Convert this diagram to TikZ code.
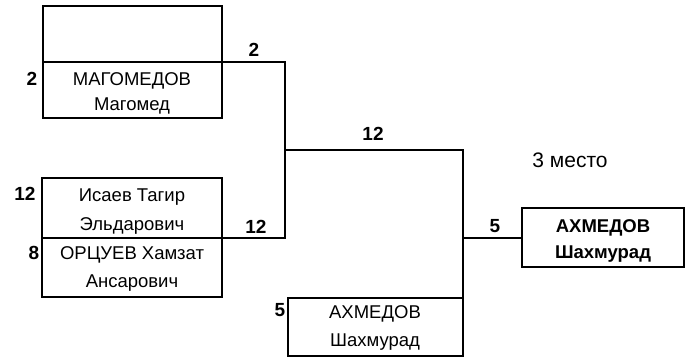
\documentclass[tikz,border=0pt]{standalone}
\usepackage{fontspec}
\setmainfont{Liberation Sans}
\begin{document}
\begin{tikzpicture}[x=1pt,y=-1pt,
  box/.style={draw,line width=2.8pt},
  wire/.style={draw,line width=1.6pt},
  nm/.style={font=\fontsize{18.5}{18.5}\selectfont,inner sep=0pt,anchor=base},
  bnm/.style={font=\fontsize{18.5}{18.5}\selectfont\bfseries,inner sep=0pt,anchor=base},
  num/.style={font=\fontsize{19}{19}\selectfont\bfseries,inner sep=0pt,anchor=base},
  big/.style={font=\fontsize{21}{21}\selectfont,inner sep=0pt,anchor=base}]
\useasboundingbox (0,0) rectangle (686,358);
% boxes
\draw[box] (43,6) rectangle (222,118);
\draw[box] (42,178) rectangle (222,297);
\draw[box] (288,298) rectangle (463,356);
\draw[box] (522,208) rectangle (684,267);
% coordinates
\coordinate (a1) at (43,62);
\coordinate (j1) at (285,62);
\coordinate (a2) at (42,238);
\coordinate (j2) at (285,238);
\coordinate (m) at (285,150);
\coordinate (m2) at (463,150);
\coordinate (b3) at (463,298);
\coordinate (k) at (463,238);
\coordinate (b4) at (522,238);
\draw[wire] (a1) -- (j1) -- (j2) -- (a2);
\draw[wire] (m) -- (m2) -- (b3);
\draw[wire] (k) -- (b4);
% texts
\node[nm] (t1) at (132,86) {МАГОМЕДОВ};
\node[nm] (t2) at (132,111) {Магомед};
\node[nm] (t3) at (132,202) {Исаев Тагир};
\node[nm] (t4) at (132,231) {Эльдарович};
\node[nm] (t5) at (132,260) {ОРЦУЕВ Хамзат};
\node[nm] (t6) at (132,288) {Ансарович};
\node[nm] (t7) at (375,319) {АХМЕДОВ};
\node[nm] (t8) at (375,346) {Шахмурад};
\node[bnm] (t9) at (603,233) {АХМЕДОВ};
\node[bnm] (t10) at (603,259) {Шахмурад};
\node[big] (pl) at (570,168) {3 место};
% numbers
\node[num] (n1) at (254,57) {2};
\node[num] (n2) at (373,141) {12};
\node[num] (n3) at (256,234) {12};
\node[num] (n4) at (495,233) {5};
\node[num] (n5) at (32,86) {2};
\node[num] (n6) at (25,201) {12};
\node[num] (n7) at (34,260) {8};
\node[num] (n8) at (280,317) {5};
\end{tikzpicture}
\end{document}
